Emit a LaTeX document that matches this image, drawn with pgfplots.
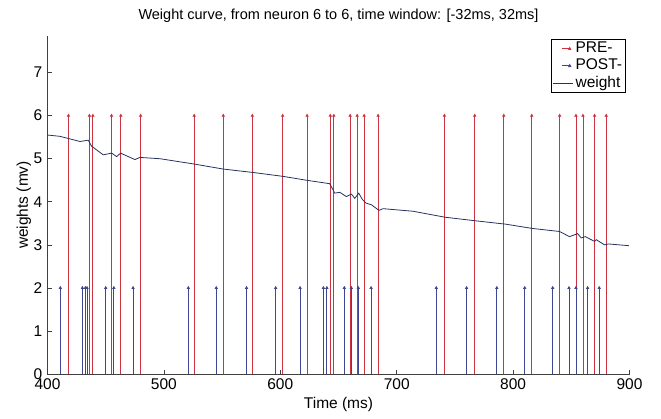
\documentclass[border=0pt]{standalone}
\usepackage{fontspec}
\setmainfont{Liberation Sans}
\usepackage{pgfplots}
\pgfplotsset{compat=1.18}
\definecolor{prec}{RGB}{205,50,65}
\definecolor{postc}{RGB}{60,70,145}
\definecolor{wc}{RGB}{40,50,95}
\pgfplotsset{
  spikelegend/.style={legend image code/.code={%
    \draw[##1, mark=none] (0.3cm,0cm) -- (0.55cm,0cm);
    \draw[##1, mark=none, fill] (0.58cm,0cm) ++(0pt,1pt) -- ++(1pt,-2pt) -- ++(-2pt,0pt) -- cycle;}},
  linelegend/.style={legend image code/.code={\draw[##1] (0cm,0cm) -- (0.7cm,0cm);}},
}
\newcommand\tf{\fontsize{15.5}{18}\selectfont}
\begin{document}
\tf
\begin{tikzpicture}
\begin{axis}[
  scale only axis, width=582pt, height=338pt,
  xmin=400, xmax=900, ymin=0, ymax=7.85,
  axis x line*=bottom, axis y line*=left,
  axis line style={black!75, line width=0.7pt},
  xtick={400,500,...,900}, ytick={0,1,...,7},
  tick align=inside, major tick length=4pt,
  tick style={black!75, line width=0.6pt},
  /pgf/number format/assume math mode=true,
  ticklabel style={font=\tf},
  xticklabel style={yshift=1pt},
  label style={font=\tf},
  xlabel={Time (ms)}, ylabel={weights (mv)},
  xlabel style={yshift=3pt}, ylabel style={yshift=-8pt},
  title={Weight curve, from neuron 6 to 6, time window: [-32ms, 32ms]},
  title style={font=\fontsize{14.5}{17}\selectfont, yshift=2pt},
  legend cell align=left,
  legend style={at={(rel axis cs:0.993,0.992)}, anchor=north east, draw=black, line width=0.7pt,
    font=\tf, inner sep=1pt, row sep=0pt},
]
\addplot[ycomb, color=prec, line width=0.8pt, mark=triangle*, mark size=1.2pt, spikelegend]
coordinates {
(418,6)(436,6)(439,6)(455,6)(463,6)(480,6)(526,6)(551,6)(576,6)(602,6)(623,6)
(643,6)(646,6)(660,6)(666,6)(672,6)(684,6)(741,6)(767,6)(792,6)(816,6)(840,6)
(854,6)(860,6)(870,6)(880,6)};
\addlegendentry{PRE-}
\addplot[ycomb, color=postc, line width=0.8pt, mark=triangle*, mark size=1.2pt, spikelegend]
coordinates {
(411,2)(430,2)(432.5,2)(434,2)(450,2)(457,2)(473.5,2)(521,2)(545,2)(571,2)(596,2)
(617,2)(637,2)(640,2)(655,2)(661,2)(667,2)(678,2)(734,2)(760,2)(786,2)(810,2)
(834,2)(848,2)(854,2)(864,2)(874,2)};
\addlegendentry{POST-}
\addplot[color=wc, line width=0.8pt, mark=none, linelegend]
coordinates {
(400,5.55)(410.7,5.52)(427.9,5.40)(435,5.43)(437.9,5.29)(447.9,5.09)(455.1,5.13)
(459.4,5.05)(462.8,5.13)(475.1,4.98)(479.4,5.03)(496.6,5.00)(525.2,4.88)(550.9,4.76)
(576.7,4.68)(602.4,4.59)(622.5,4.50)(642.5,4.42)(646.8,4.20)(651.1,4.22)(656.8,4.12)
(661.1,4.18)(664,4.08)(667.4,4.20)(670.6,4.05)(673.6,3.97)(678.3,3.93)(684.8,3.80)
(688.2,3.84)(714,3.78)(741.8,3.64)(767.2,3.56)(793.6,3.48)(816.7,3.38)(839.9,3.31)
(848.5,3.19)(855.4,3.26)(858.5,3.16)(862,3.19)(870,3.08)(871.4,3.12)(878.5,3.00)
(882.2,3.02)(899.4,2.98)};
\addlegendentry{weight}
\end{axis}
\pgfresetboundingbox
\path (current axis.south west) ++(-47.5pt,-44pt) rectangle ++(661pt,418pt);
\end{tikzpicture}
\end{document}
